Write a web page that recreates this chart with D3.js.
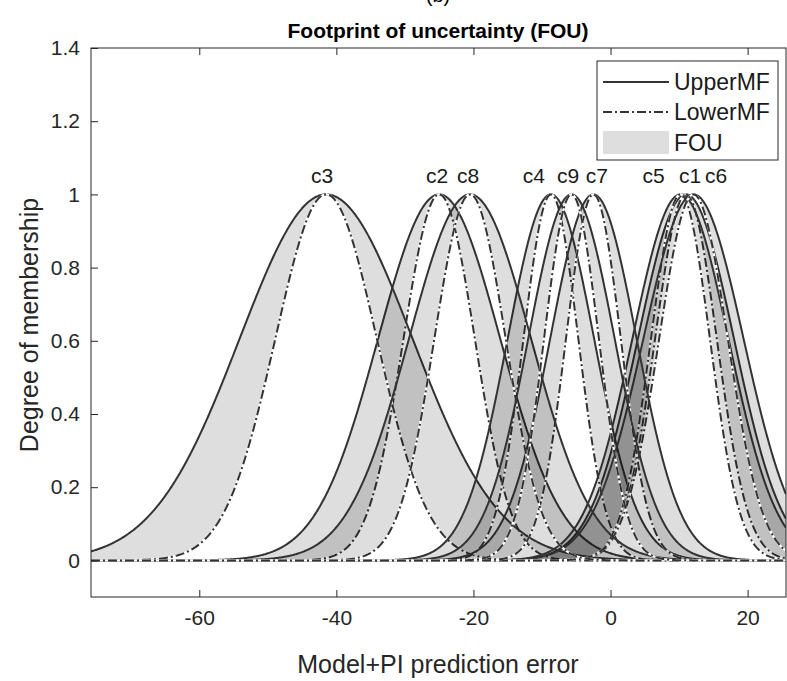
<!DOCTYPE html>
<html>
<head>
<meta charset="utf-8">
<script src="https://cdn.jsdelivr.net/npm/d3@7"></script>
<style>
  html, body { margin: 0; padding: 0; background: #fff; }
  svg { display: block; font-family: "Liberation Sans", Arial, sans-serif; }
</style>
</head>
<body>
<svg id="chart" width="787" height="681"></svg>
<script>
// Interval type-2 Gaussian membership functions (uncertain standard deviation)
const mfNames    = ["c1", "c2", "c3", "c4", "c5", "c6", "c7", "c8", "c9"];
const mfCenters  = [11.0, -25.0, -41.5, -8.7, 10.2, 12.1, -2.5, -20.5, -5.7];
const sigmaUpper = [7.0, 8.9, 12.6, 6.3, 7.0, 7.3, 6.3, 8.9, 6.3];
const sigmaLower = [4.5, 5.2, 7.4, 4.0, 4.3, 5.0, 4.0, 5.2, 4.0];
// label anchor along the error axis, for each MF name
const labelAt    = [11.6, -25.3, -42.1, -11.2, 6.3, 15.4, -2.0, -20.8, -6.2];

const xTicks = [-60, -40, -20, 0, 20];
const yTicks = [0, 0.2, 0.4, 0.6, 0.8, 1, 1.2, 1.4];
const legendItems = ["UpperMF", "LowerMF", "FOU"];

const svg = d3.select("#chart");
const plot = { left: 91, right: 786, top: 48, bottom: 597 };
const x = d3.scaleLinear().domain([-75.8, 25.6]).range([plot.left, plot.right]);
const y = d3.scaleLinear().domain([-0.1, 1.4]).range([plot.bottom, plot.top]);

const ink = "#262626";
const curveInk = "#333333";
const dashDot = "9,3,2,3";

svg.append("defs").append("clipPath").attr("id", "plotClip")
  .append("rect")
  .attr("x", plot.left).attr("y", plot.top)
  .attr("width", plot.right - plot.left).attr("height", plot.bottom - plot.top);

const gauss = (v, m, s) => Math.exp(-((v - m) * (v - m)) / (2 * s * s));
const xs = d3.range(x.domain()[0], x.domain()[1] + 0.05, 0.1);

const line = d3.line().x(d => x(d[0])).y(d => y(d[1]));
const band = d3.area().x(d => x(d[0])).y0(d => y(d[1])).y1(d => y(d[2]));

const g = svg.append("g").attr("clip-path", "url(#plotClip)");

mfNames.forEach((name, i) => {
  const m = mfCenters[i], su = sigmaUpper[i], sl = sigmaLower[i];
  const pts = xs.map(v => [v, gauss(v, m, su), gauss(v, m, sl)]);
  // footprint of uncertainty
  g.append("path").datum(pts).attr("d", band)
    .attr("fill", "#000").attr("fill-opacity", 0.13).attr("stroke", "none");
  // upper MF
  g.append("path").datum(pts.map(p => [p[0], p[1]])).attr("d", line)
    .attr("fill", "none").attr("stroke", curveInk).attr("stroke-width", 2);
  // lower MF: dash-dot over a white backing
  const lower = pts.map(p => [p[0], p[2]]);
  g.append("path").datum(lower).attr("d", line)
    .attr("fill", "none").attr("stroke", "#fff").attr("stroke-width", 2.2);
  g.append("path").datum(lower).attr("d", line)
    .attr("fill", "none").attr("stroke", curveInk).attr("stroke-width", 2)
    .attr("stroke-dasharray", dashDot);
});

// MF labels above the peaks
svg.append("g").selectAll("text").data(mfNames).join("text")
  .attr("x", (d, i) => x(labelAt[i]))
  .attr("y", y(1.05))
  .attr("dy", "0.35em")
  .attr("text-anchor", "middle")
  .attr("font-size", 21)
  .attr("fill", "#1a1a1a")
  .text(d => d);

// axes box
svg.append("rect")
  .attr("x", plot.left).attr("y", plot.top)
  .attr("width", plot.right - plot.left).attr("height", plot.bottom - plot.top)
  .attr("fill", "none").attr("stroke", ink).attr("stroke-width", 1);

const bottomAxis = d3.axisBottom(x).tickValues(xTicks).tickSize(-7).tickPadding(13)
  .tickFormat(d => String(d));
const gx = svg.append("g").attr("transform", `translate(0,${plot.bottom})`).call(bottomAxis);
const topAxis = d3.axisTop(x).tickValues(xTicks).tickSize(-7).tickFormat("");
const gxt = svg.append("g").attr("transform", `translate(0,${plot.top})`).call(topAxis);
const leftAxis = d3.axisLeft(y).tickValues(yTicks).tickSize(-7).tickPadding(11)
  .tickFormat(d => String(d));
const gy = svg.append("g").attr("transform", `translate(${plot.left},0)`).call(leftAxis);

[gx, gxt, gy].forEach(a => {
  a.select(".domain").remove();
  a.selectAll("line").attr("stroke", ink);
  a.selectAll("text").attr("fill", ink).attr("font-size", 21)
    .attr("font-family", "Liberation Sans, Arial, sans-serif");
});

// titles
svg.append("text").attr("x", 438).attr("y", 2).attr("text-anchor", "middle")
  .attr("font-size", 20).attr("fill", "#000").text("(b)");
svg.append("text").attr("x", 438).attr("y", 38).attr("text-anchor", "middle")
  .attr("font-size", 21).attr("font-weight", "bold").attr("fill", "#000")
  .text("Footprint of uncertainty (FOU)");
svg.append("text").attr("x", 438).attr("y", 673).attr("text-anchor", "middle")
  .attr("font-size", 25).attr("fill", ink).text("Model+PI prediction error");
svg.append("text").attr("transform", `translate(38,325) rotate(-90)`)
  .attr("text-anchor", "middle").attr("font-size", 25).attr("fill", ink)
  .text("Degree of membership");

// legend
const lg = svg.append("g");
const lb = { x: 597, y: 61, w: 181, h: 99 };
lg.append("rect").attr("x", lb.x).attr("y", lb.y).attr("width", lb.w).attr("height", lb.h)
  .attr("fill", "#fff").attr("stroke", ink).attr("stroke-width", 1);
const rowY = [82, 112, 143];
const sx0 = 603, sx1 = 669;
lg.append("line").attr("x1", sx0).attr("x2", sx1).attr("y1", rowY[0]).attr("y2", rowY[0])
  .attr("stroke", curveInk).attr("stroke-width", 2);
lg.append("line").attr("x1", sx0).attr("x2", sx1).attr("y1", rowY[1]).attr("y2", rowY[1])
  .attr("stroke", curveInk).attr("stroke-width", 2).attr("stroke-dasharray", dashDot);
lg.append("rect").attr("x", sx0).attr("y", rowY[2] - 12).attr("width", sx1 - sx0).attr("height", 23)
  .attr("fill", "#000").attr("fill-opacity", 0.13);
lg.selectAll("text.item").data(legendItems).join("text").attr("class", "item")
  .attr("x", 674).attr("y", (d, i) => rowY[i]).attr("dy", "0.36em")
  .attr("font-size", 23).attr("fill", "#1a1a1a").text(d => d);
</script>
</body>
</html>
